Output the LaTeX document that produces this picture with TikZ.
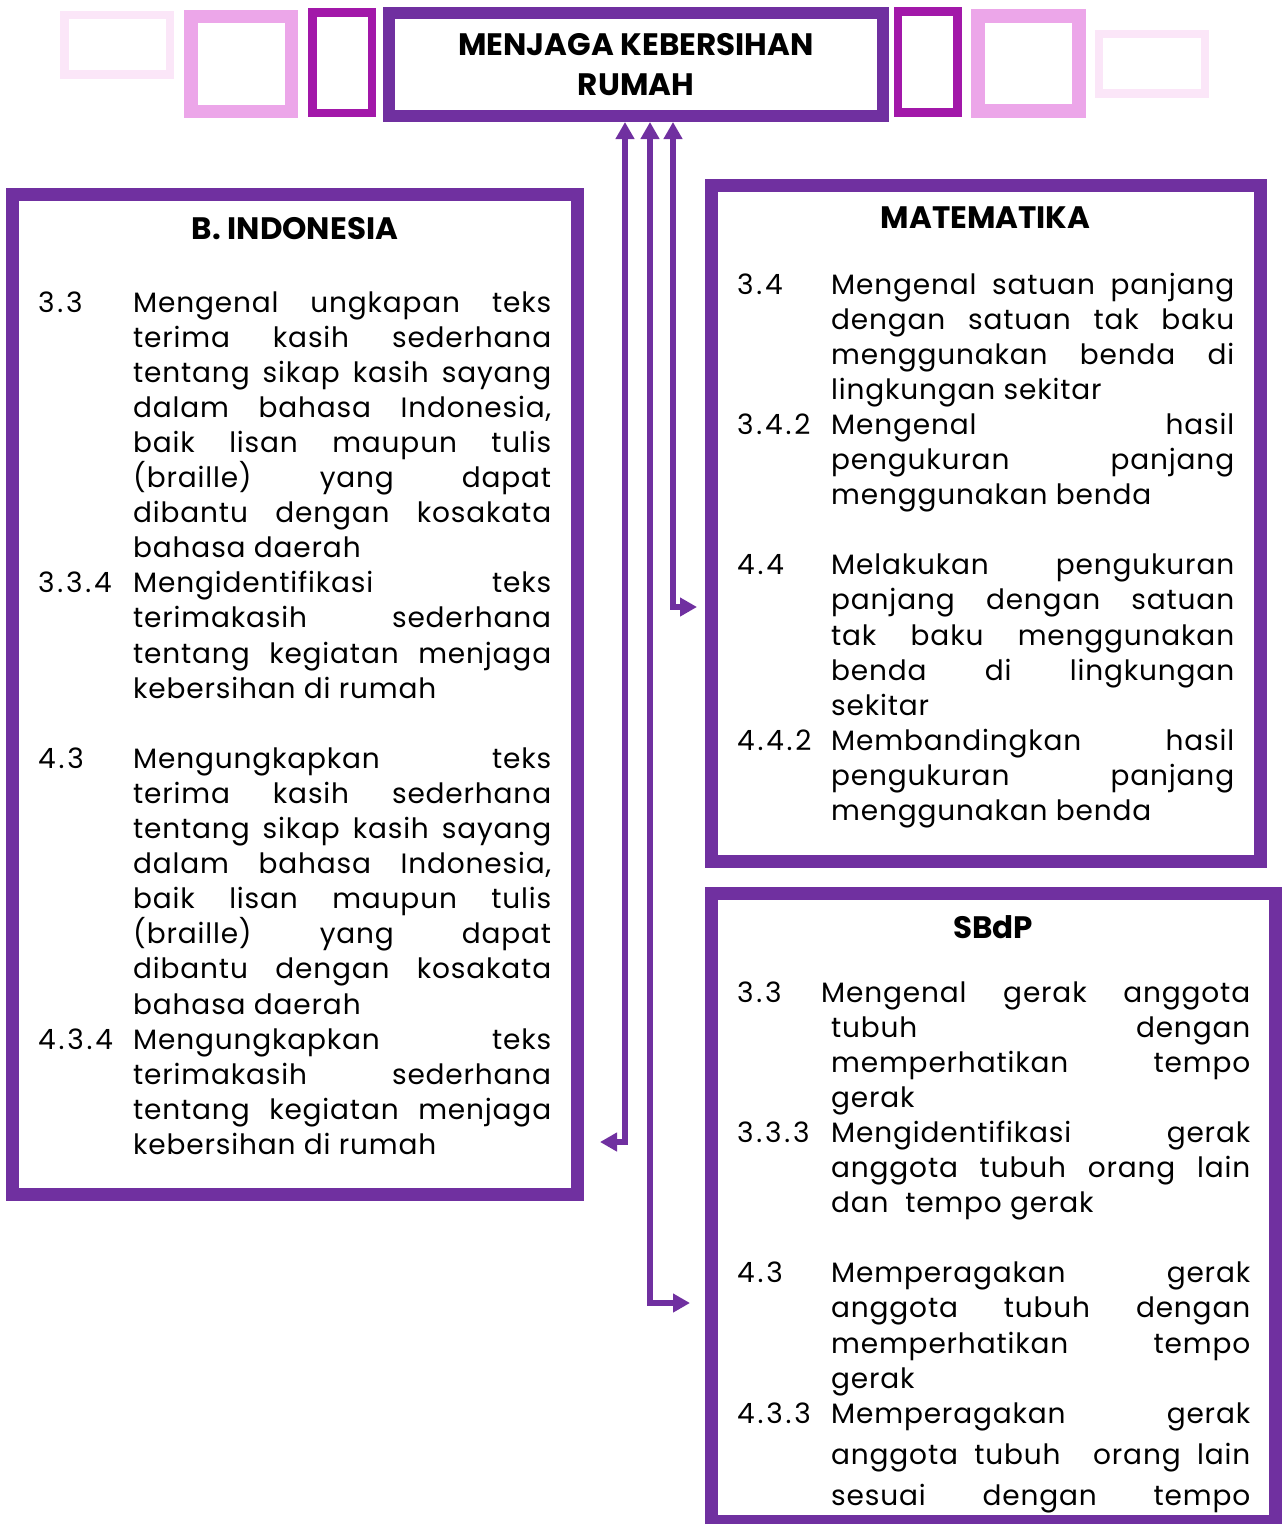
\documentclass[tikz,border=0pt]{standalone}
\usepackage{fontspec}
\setmainfont{Poppins}[LetterSpace=3]
\newfontfamily\numfont{Poppins}[LetterSpace=10]
\newfontfamily\ttlfont{Poppins}
\usetikzlibrary{arrows.meta}
\definecolor{mpurple}{HTML}{7030A0}
\definecolor{mmagenta}{HTML}{A218A9}
\definecolor{mpink}{HTML}{ECA6E9}
\definecolor{mlight}{HTML}{FBE6F8}
\newlength\numw
\newlength\txtw
\newcommand\jline[2]{\noindent\makebox[\numw][l]{\numfont #1}\makebox[\txtw][s]{#2}\par}
\newcommand\lline[2]{\noindent\makebox[\numw][l]{\numfont #1}#2\par}
\newcommand\bline{\noindent\mbox{}\par}
\newcommand\bodyset{\fontsize{28}{35.1}\selectfont\parskip=0pt\lineskiplimit=-100pt\parindent=0pt}
\begin{document}
\begin{tikzpicture}[x=1pt,y=-1pt,
  frame/.style={rectangle,draw=mpurple,line width=13pt,outer sep=6.5pt,inner sep=0pt},
  deco/.style={rectangle,inner sep=0pt,outer sep=0pt},
  ttl/.style={font=\ttlfont\fontsize{31}{40}\selectfont\bfseries,inner sep=0pt,align=center},
  body/.style={inner sep=0pt,anchor=base west},
  conn/.style={draw=mpurple,line width=6pt,{Triangle[width=18pt,length=17pt]}-{Triangle[width=18pt,length=17pt]}}]
\useasboundingbox (0,0) rectangle (1285,1524);
% decorative frames
\node[deco,draw=mlight,line width=8.5pt,minimum width=105.5pt,minimum height=59.5pt] (d1) at (117.25,44.75) {};
\node[deco,draw=mpink,line width=13.5pt,minimum width=100.5pt,minimum height=95pt] (d2) at (241.25,64) {};
\node[deco,draw=mmagenta,line width=8.5pt,minimum width=59.5pt,minimum height=100.5pt] (d3) at (342.25,62.75) {};
\node[deco,draw=mmagenta,line width=8.5pt,minimum width=59.5pt,minimum height=101pt] (d5) at (927.75,62) {};
\node[deco,draw=mpink,line width=13.5pt,minimum width=101pt,minimum height=95pt] (d6) at (1028.5,63.5) {};
\node[deco,draw=mlight,line width=8.5pt,minimum width=106pt,minimum height=59.5pt] (d7) at (1152,63.75) {};
% main
\node[frame,line width=12pt,outer sep=6pt,minimum width=494pt,minimum height=103pt,ttl] (main) at (636,64.5) {MENJAGA KEBERSIHAN\\RUMAH};
% subject frames
\node[frame,minimum width=565pt,minimum height=1000pt] (bi) at (295,694.5) {};
\node[frame,minimum width=549pt,minimum height=676pt] (mat) at (986,523.5) {};
\node[frame,minimum width=564pt,minimum height=627.5pt] (sbdp) at (993.5,1207.25) {};
% titles
\node[ttl] (bititle) at (295,229) {B. INDONESIA};
\node[ttl] (mattitle) at (985.5,218) {MATEMATIKA};
\node[ttl] (sbdptitle) at (993,927) {SBdP};
% body texts
\node[body] (bitext) at (38,312) {\parbox[t]{520pt}{\bodyset\setlength\numw{95pt}\setlength\txtw{418pt}%
\jline{3.3}{Mengenal ungkapan teks}
\jline{}{terima kasih sederhana}
\jline{}{tentang sikap kasih sayang}
\jline{}{dalam bahasa Indonesia,}
\jline{}{baik lisan maupun tulis}
\jline{}{(braille) yang dapat}
\jline{}{dibantu dengan kosakata}
\lline{}{bahasa daerah}
\jline{3.3.4}{Mengidentifikasi teks}
\jline{}{terimakasih sederhana}
\jline{}{tentang kegiatan menjaga}
\lline{}{kebersihan di rumah}
\bline
\jline{4.3}{Mengungkapkan teks}
\jline{}{terima kasih sederhana}
\jline{}{tentang sikap kasih sayang}
\jline{}{dalam bahasa Indonesia,}
\jline{}{baik lisan maupun tulis}
\jline{}{(braille) yang dapat}
\jline{}{dibantu dengan kosakata}
\lline{}{bahasa daerah}
\jline{4.3.4}{Mengungkapkan teks}
\jline{}{terimakasih sederhana}
\jline{}{tentang kegiatan menjaga}
\lline{}{kebersihan di rumah}}};
\node[body] (mattext) at (737,294) {\parbox[t]{500pt}{\bodyset\setlength\numw{94pt}\setlength\txtw{403pt}%
\jline{3.4}{Mengenal satuan panjang}
\jline{}{dengan satuan tak baku}
\jline{}{menggunakan benda di}
\lline{}{lingkungan sekitar}
\jline{3.4.2}{Mengenal hasil}
\jline{}{pengukuran panjang}
\lline{}{menggunakan benda}
\bline
\jline{4.4}{Melakukan pengukuran}
\jline{}{panjang dengan satuan}
\jline{}{tak baku menggunakan}
\jline{}{benda di lingkungan}
\lline{}{sekitar}
\jline{4.4.2}{Membandingkan hasil}
\jline{}{pengukuran panjang}
\lline{}{menggunakan benda}}};
\node[body] (sbdptext) at (737,1002) {\parbox[t]{520pt}{\bodyset\setlength\numw{94pt}\setlength\txtw{419pt}%
\noindent\makebox[84pt][l]{\numfont 3.3}\makebox[429pt][s]{Mengenal gerak anggota}\par
\jline{}{tubuh dengan}
\jline{}{memperhatikan tempo}
\lline{}{gerak}
\jline{3.3.3}{Mengidentifikasi gerak}
\jline{}{anggota tubuh orang lain}
\lline{}{dan\ \ tempo gerak}
\bline
\jline{4.3}{Memperagakan gerak}
\jline{}{anggota tubuh dengan}
\jline{}{memperhatikan tempo}
\lline{}{gerak}
\jline{4.3.3}{Memperagakan gerak}
\vspace{5.8pt}
\jline{}{anggota tubuh\ \ orang lain}
\vspace{5.8pt}
\jline{}{sesuai dengan tempo}}};
% connectors
\coordinate (x1) at (625,0);
\coordinate (x2) at (650,0);
\coordinate (x3) at (673,0);
\coordinate (e1) at (600,1142);
\coordinate (e2) at (690,1303);
\coordinate (e3) at (697,607);
\draw[conn] (main.south -| x1) |- (e1);
\draw[conn] (main.south -| x2) |- (e2);
\draw[conn] (main.south -| x3) |- (e3);
\end{tikzpicture}
\end{document}
